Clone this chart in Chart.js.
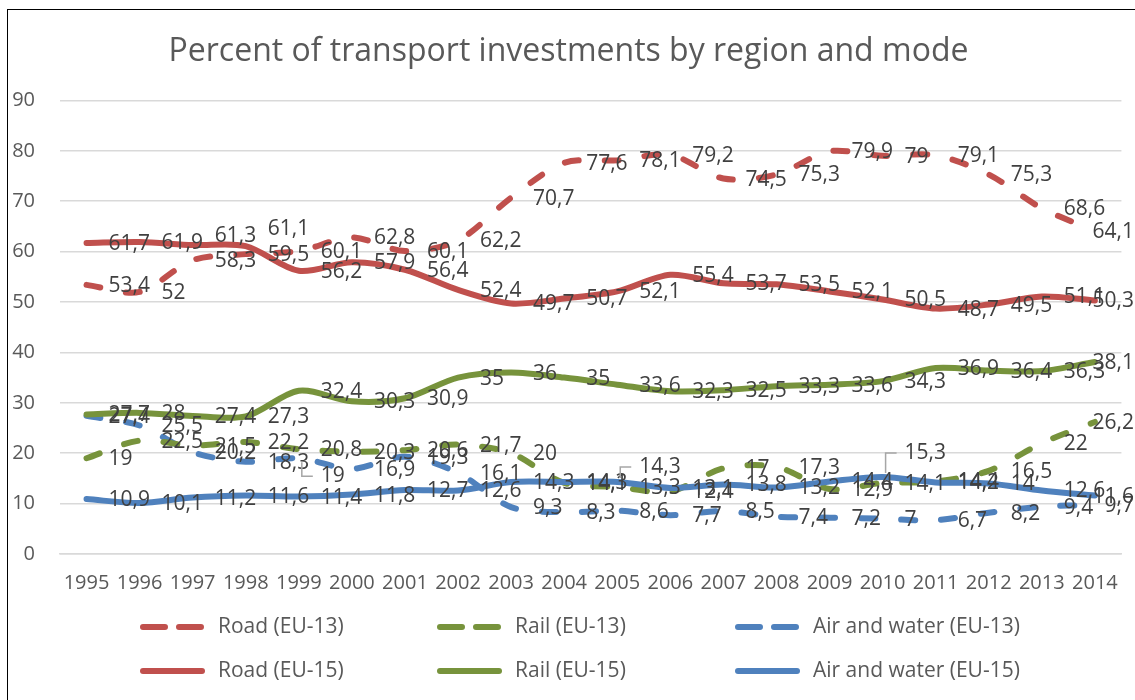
<!DOCTYPE html>
<html>
<head>
<meta charset="utf-8">
<script src="https://cdn.jsdelivr.net/npm/chart.js@4/dist/chart.umd.min.js"></script>
<style>
  html, body { margin: 0; padding: 0; background: #fff; }
  #wrap { position: relative; width: 1135px; height: 700px; overflow: hidden; }
  #wrap canvas { position: absolute; left: 0; top: 0; }
  #frame { position: absolute; left: 7px; top: 9px; width: 1150px; height: 720px;
           border: 1.5px solid #000; box-sizing: border-box; pointer-events: none; }
</style>
</head>
<body>
<div id="wrap">
  <canvas id="chart" width="1135" height="700"></canvas>
  <div id="frame"></div>
</div>
<script>
/* Percent of transport investments by region and mode */
const years = ['1995', '1996', '1997', '1998', '1999', '2000', '2001', '2002', '2003', '2004',
               '2005', '2006', '2007', '2008', '2009', '2010', '2011', '2012', '2013', '2014'];

const roadEU13 = [53.4, 52, 58.3, 59.5, 60.1, 62.8, 60.1, 62.2, 70.7, 77.6, 78.1, 79.2, 74.5, 75.3, 79.9, 79, 79.1, 75.3, 68.6, 64.1];
const railEU13 = [19, 22.5, 21.5, 22.2, 20.8, 20.3, 20.6, 21.7, 20, 14.1, 13.3, 12.4, 17, 17.3, 12.9, 14.1, 14.4, 16.5, 22, 26.2];
const airEU13  = [27.4, 25.5, 20.2, 18.3, 19, 16.9, 19.3, 16.1, 9.3, 8.3, 8.6, 7.7, 8.5, 7.4, 7.2, 7, 6.7, 8.2, 9.4, 9.7];
const roadEU15 = [61.7, 61.9, 61.3, 61.1, 56.2, 57.9, 56.4, 52.4, 49.7, 50.7, 52.1, 55.4, 53.7, 53.5, 52.1, 50.5, 48.7, 49.5, 51.1, 50.3];
const railEU15 = [27.7, 28, 27.4, 27.3, 32.4, 30.3, 30.9, 35, 36, 35, 33.6, 32.3, 32.5, 33.3, 33.6, 34.3, 36.9, 36.4, 36.3, 38.1];
const airEU15  = [10.9, 10.1, 11.2, 11.6, 11.4, 11.8, 12.7, 12.6, 14.3, 14.3, 14.3, 13.1, 13.8, 13.2, 14.4, 15.3, 14.2, 14, 12.6, 11.6];

const yTicks = [0, 10, 20, 30, 40, 50, 60, 70, 80, 90];

const RED = '#C0504D', GREEN = '#77933C', BLUE = '#4F81BD';
const DASH = [14, 26];
const FONT = '"Open Sans", "Noto Sans", sans-serif';

// labels that were moved off their point in the original (dataset index, point index)
const labelShifts = [
  { ds: 3, i: 2, dy: -10 },
  { ds: 3, i: 3, dy: -18 },
  { ds: 2, i: 4, dy: 17, leader: true },
  { ds: 5, i: 10, dy: -16, leader: true },
  { ds: 5, i: 15, dy: -25, leader: true }
];

function line(label, data, color, dashed) {
  return {
    label, data,
    borderColor: color,
    backgroundColor: color,
    borderWidth: 6,
    borderDash: dashed ? DASH : [],
    borderCapStyle: 'round',
    borderJoinStyle: 'round',
    pointRadius: 0,
    tension: 0.3,
    order: dashed ? 2 : 1
  };
}

// value labels to the right of each point, comma decimals
const valueLabels = {
  id: 'valueLabels',
  afterDatasetsDraw(chart) {
    const ctx = chart.ctx;
    ctx.save();
    ctx.font = '21px ' + FONT;
    ctx.textBaseline = 'middle';
    chart.data.datasets.forEach((ds, d) => {
      const meta = chart.getDatasetMeta(d);
      meta.data.forEach((pt, i) => {
        const txt = String(ds.data[i]).replace('.', ',');
        const w = ctx.measureText(txt).width;
        const s = labelShifts.find(o => o.ds === d && o.i === i);
        let x = pt.x + 22;
        const y = pt.y + 1 + (s ? s.dy : 0);
        if (x + w > chart.width - 1) x = chart.width - 1 - w;
        if (s && s.leader) {
          const up = s.dy < 0;
          ctx.strokeStyle = '#a6a6a6';
          ctx.lineWidth = 1.5;
          ctx.beginPath();
          ctx.moveTo(pt.x + 3, pt.y + (up ? -4 : 4));
          ctx.lineTo(pt.x + 3, y);
          ctx.lineTo(x - 8, y);
          ctx.stroke();
        }
        ctx.fillStyle = '#404040';
        ctx.fillText(txt, x, y);
      });
    });
    ctx.restore();
  }
};

// legend laid out as a 3 x 2 grid like the original
const gridLegend = {
  id: 'gridLegend',
  afterDraw(chart) {
    const ctx = chart.ctx;
    const cols = [140, 437, 735];
    const rows = [627, 671];
    ctx.save();
    ctx.font = '21px ' + FONT;
    ctx.textBaseline = 'middle';
    chart.data.datasets.forEach((ds, k) => {
      const x = cols[k % 3];
      const y = rows[Math.floor(k / 3)];
      ctx.strokeStyle = ds.borderColor;
      ctx.lineWidth = ds.borderWidth;
      ctx.lineCap = 'round';
      ctx.setLineDash(ds.borderDash.length ? [22, 14] : []);
      ctx.beginPath();
      ctx.moveTo(x + 3, y);
      ctx.lineTo(x + 62, y);
      ctx.stroke();
      ctx.setLineDash([]);
      ctx.fillStyle = '#595959';
      ctx.fillText(ds.label, x + 78, y);
    });
    ctx.restore();
  }
};

new Chart(document.getElementById('chart'), {
  type: 'line',
  data: {
    labels: years,
    datasets: [
      line('Road (EU-13)', roadEU13, RED, true),
      line('Rail (EU-13)', railEU13, GREEN, true),
      line('Air and water (EU-13)', airEU13, BLUE, true),
      line('Road (EU-15)', roadEU15, RED, false),
      line('Rail (EU-15)', railEU15, GREEN, false),
      line('Air and water (EU-15)', airEU15, BLUE, false)
    ]
  },
  options: {
    responsive: false,
    animation: false,
    layout: { padding: { left: 12, right: 10, top: 0, bottom: 105 } },
    plugins: {
      legend: { display: false },
      tooltip: { enabled: false },
      title: {
        display: true,
        text: 'Percent of transport investments by region and mode',
        color: '#595959',
        font: { family: FONT, size: 32, weight: 'normal' },
        padding: { top: 33, bottom: 29 }
      }
    },
    scales: {
      x: {
        offset: true,
        grid: { display: false, drawTicks: false },
        border: { color: '#d9d9d9', width: 1.5 },
        ticks: { color: '#595959', font: { family: FONT, size: 20 }, padding: 17,
                 maxRotation: 0, autoSkip: false },
        afterFit: axis => { axis.height = 41; }
      },
      y: {
        min: yTicks[0],
        max: yTicks[yTicks.length - 1],
        afterBuildTicks: axis => { axis.ticks = yTicks.map(v => ({ value: v })); },
        afterFit: axis => { axis.width = 48; },
        grid: { color: '#d9d9d9', lineWidth: 1.5, drawTicks: false },
        border: { display: false },
        ticks: { color: '#595959', font: { family: FONT, size: 20 }, padding: 25 }
      }
    }
  },
  plugins: [valueLabels, gridLegend]
});
</script>
</body>
</html>
